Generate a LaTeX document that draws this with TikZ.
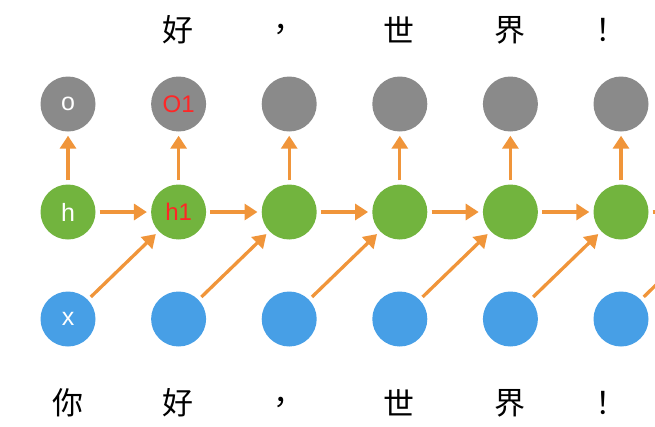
\documentclass[tikz,border=0pt]{standalone}
\usepackage{fontspec}
\setmainfont{Liberation Sans}
\newfontfamily\cjk{Noto Sans CJK SC}
\usetikzlibrary{arrows.meta}
\definecolor{rnnorange}{HTML}{F0953A}
\definecolor{rnngray}{HTML}{8A8A8A}
\definecolor{rnngreen}{HTML}{72B43E}
\definecolor{rnnblue}{HTML}{479FE6}
\begin{document}
\begin{tikzpicture}[x=1pt,y=-1pt, line join=round,
	cell/.style={circle,minimum size=55pt,inner sep=0},
	outcell/.style={cell,fill=rnngray},
	hidcell/.style={cell,fill=rnngreen},
	inpcell/.style={cell,fill=rnnblue},
	lbl/.style={text=white,font=\fontsize{25}{25}\selectfont},
	redlbl/.style={text=red!85!white,font=\fontsize{24}{24}\selectfont},
	word/.style={font=\cjk\fontsize{31}{31}\selectfont},
	flow/.style={draw=rnnorange,line width=3.3pt,-{Triangle[length=13pt,width=16pt]},shorten <=4pt,shorten >=4pt}]
	\useasboundingbox (0,0) rectangle (655,426);
	\foreach \i in {0,...,5}{
		\path (68+110.6*\i,104)node[outcell](o\i){}
		(68+110.6*\i,212)node[hidcell](h\i){}
		(68+110.6*\i,319)node[inpcell](x\i){};
		\draw[flow](h\i)--(o\i);
	}
	\path (o0)node[lbl]{o}
	(h0)node[lbl]{h}
	(x0)node[lbl]{x}
	(o1)node[redlbl]{O1}
	(h1)node[redlbl]{h1};
	\foreach \i [evaluate=\i as \j using int(\i+1)] in {0,...,4}{
		\draw[flow](h\i)--(h\j);
		\draw[flow](x\i)--(h\j);
	}
	\coordinate (hr) at (720,212);
	\coordinate (xr) at (731,212);
	\draw[flow](h5)--(hr);
	\draw[flow](x5)--(xr);
	% top and bottom words
	\path (178,30)node[word](t1){好} (289,30)node[word](t2){，}
	(399,30)node[word](t3){世} (510,30)node[word](t4){界} (611,30)node[word](t5){！};
	\path (68,403)node[word](b0){你} (178,403)node[word](b1){好} (289,403)node[word](b2){，}
	(399,403)node[word](b3){世} (510,403)node[word](b4){界} (611,403)node[word](b5){！};
\end{tikzpicture}
\end{document}
